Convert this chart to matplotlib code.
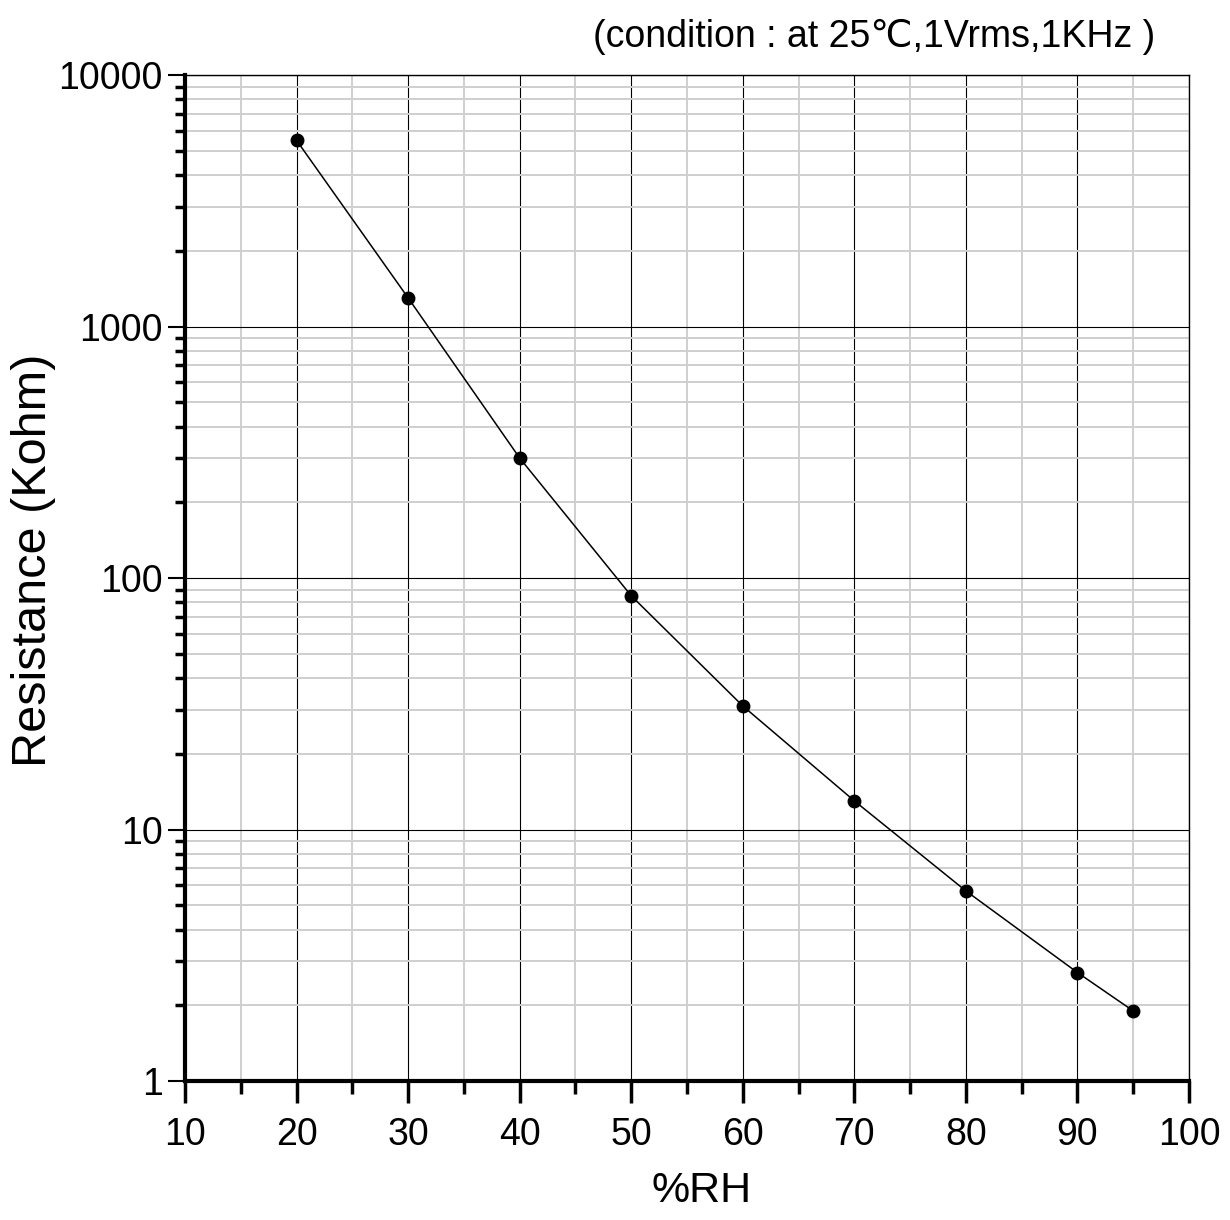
import matplotlib
matplotlib.use("Agg")
import matplotlib.pyplot as plt
from matplotlib.ticker import FixedLocator, LogLocator, NullFormatter, FuncFormatter

# -----------------------------
# Data
# -----------------------------
rh = [20, 30, 40, 50, 60, 70, 80, 90, 95]
resistance = [5500, 1300, 300, 85, 31, 13, 5.7, 2.7, 1.9]

x_major = [10, 20, 30, 40, 50, 60, 70, 80, 90, 100]
x_minor = [15, 25, 35, 45, 55, 65, 75, 85, 95]
y_major = [1, 10, 100, 1000, 10000]

title_text = "(condition : at 25\u2103,1Vrms,1KHz )"
x_label = "%RH"
y_label = "Resistance (Kohm)"

font = ["Liberation Sans", "DejaVu Sans"]

# -----------------------------
# Figure
# -----------------------------
fig = plt.figure(figsize=(12.3, 12.2), dpi=100)
ax = fig.add_axes([0.1504, 0.1139, 0.8163, 0.8246])

ax.set_yscale("log")
ax.set_xlim(10, 100)
ax.set_ylim(1, 10000)

ax.xaxis.set_major_locator(FixedLocator(x_major))
ax.xaxis.set_minor_locator(FixedLocator(x_minor))
ax.yaxis.set_major_locator(FixedLocator(y_major))
ax.yaxis.set_minor_locator(LogLocator(base=10, subs=range(2, 10)))
ax.yaxis.set_major_formatter(FuncFormatter(lambda v, p: f"{v:g}"))
ax.yaxis.set_minor_formatter(NullFormatter())

# grid
ax.grid(which="minor", color="#cfcfcf", linewidth=1.4)
ax.grid(which="major", color="black", linewidth=0.8)
ax.set_axisbelow(True)

# spines
for s in ["left", "bottom"]:
    ax.spines[s].set_linewidth(3)
for s in ["top", "right"]:
    ax.spines[s].set_linewidth(1.0)

ax.tick_params(which="major", axis="x", direction="out", length=16, width=2.5,
               pad=10, labelsize=27)
ax.tick_params(which="minor", axis="x", direction="out", length=9, width=2.5)
ax.tick_params(which="major", axis="y", direction="out", length=12, width=1.5,
               pad=4, labelsize=27)
ax.tick_params(which="minor", axis="y", direction="out", length=7, width=2.5)
for lab in ax.get_xticklabels() + ax.get_yticklabels():
    lab.set_family(font)

# curve
ax.plot(rh, resistance, color="black", linewidth=1.1, marker="o",
        markersize=9, markerfacecolor="black", zorder=3, clip_on=False)

# labels
fig.text(0.711, 0.970, title_text, ha="center", va="center",
         fontsize=27, family=font)
fig.text(0.57, 0.024, x_label, ha="center", va="center",
         fontsize=31, family=font)
fig.text(0.027, 0.541, y_label, ha="center", va="center", rotation=90,
         fontsize=35, family=font)

plt.savefig("out.png", dpi=100)
